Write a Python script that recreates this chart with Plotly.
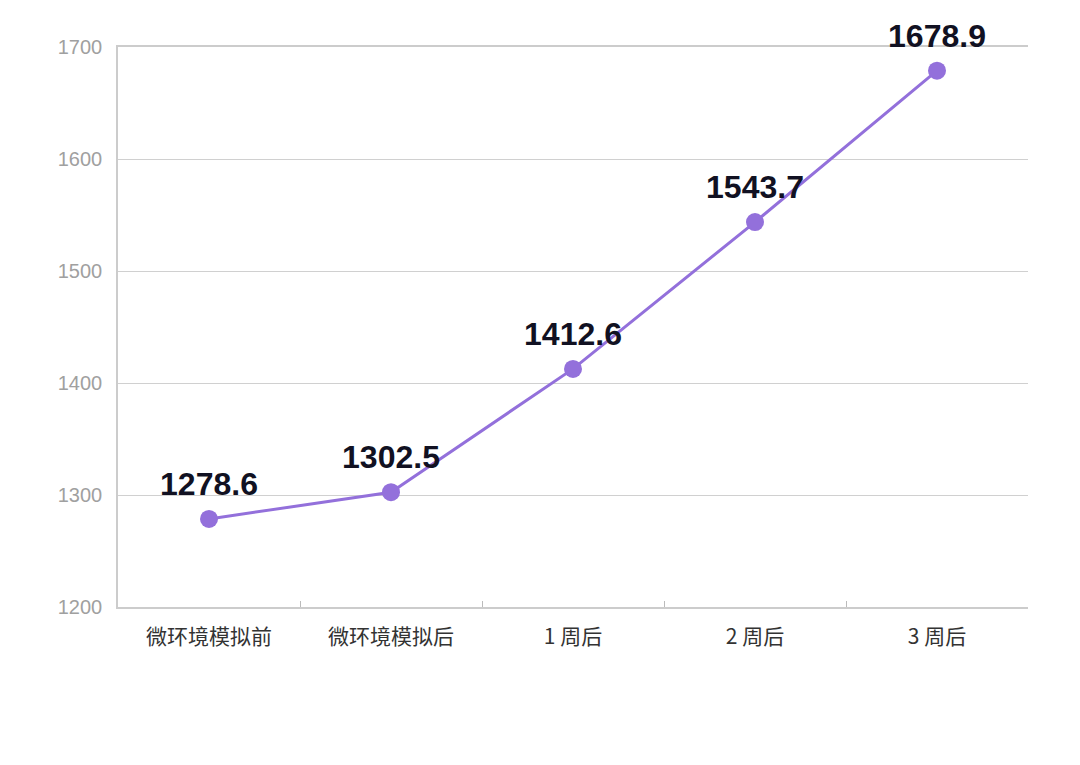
import plotly.graph_objects as go

categories = ["微环境模拟前", "微环境模拟后", "1 周后", "2 周后", "3 周后"]
values = [1278.6, 1302.5, 1412.6, 1543.7, 1678.9]
y_ticks = [1200, 1300, 1400, 1500, 1600, 1700]

FONT = "Liberation Sans, Arial, Noto Sans CJK SC, sans-serif"

fig = go.Figure()
fig.add_trace(go.Scatter(
    x=categories, y=values,
    mode="lines+markers",
    line=dict(color="#9370DB", width=3),
    marker=dict(color="#9370DB", size=18),
    cliponaxis=False,
    showlegend=False,
    hoverinfo="skip",
))
fig.add_trace(go.Scatter(
    x=categories, y=values,
    mode="markers+text",
    marker=dict(color="rgba(0,0,0,0)", size=24),
    text=[f"{v:.1f}" for v in values],
    textposition="top center",
    textfont=dict(family=FONT, size=32, color="#111122", weight="bold"),
    cliponaxis=False,
    showlegend=False,
))

fig.update_layout(
    width=1080, height=765,
    margin=dict(l=110, r=60, t=39, b=166),
    paper_bgcolor="white", plot_bgcolor="white",
    font=dict(family=FONT),
)
fig.update_xaxes(
    type="category",
    tickson="boundaries",
    ticks="inside", ticklen=6, tickcolor="#bbbbbb", tickwidth=1,
    showline=True, linecolor="#cccccc", linewidth=1.5, mirror=True,
    showgrid=False, layer="below traces",
    ticklabelstandoff=10,
    tickfont=dict(family="Noto Sans CJK SC, sans-serif", size=21, color="#333333"),
    range=[-0.5, 4.5],
)
fig.update_yaxes(
    range=[1200, 1700],
    tickvals=y_ticks,
    showgrid=True, gridcolor="#d0d0d0", gridwidth=1.2,
    showline=True, linecolor="#cccccc", linewidth=1.5,
    zeroline=False, layer="below traces",
    ticks="", ticklabelstandoff=10,
    tickfont=dict(family=FONT, size=20, color="#a0a0a0"),
)

fig.write_html("out.html")
